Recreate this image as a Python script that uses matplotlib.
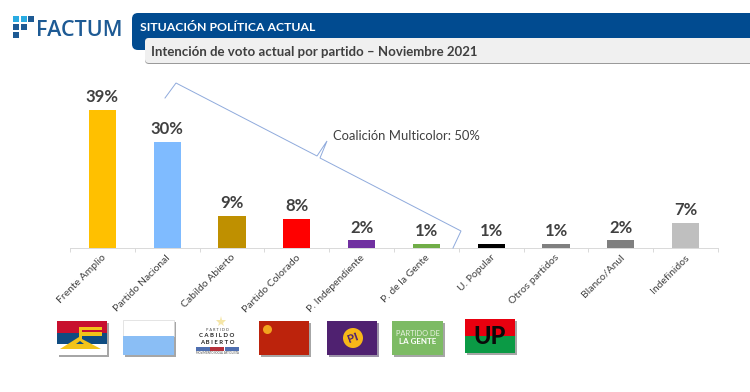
import matplotlib
matplotlib.use("Agg")
import matplotlib.pyplot as plt
from matplotlib.patches import Rectangle, FancyBboxPatch, Circle, Polygon

W, H = 750, 392
parties = ["Frente Amplio", "Partido Nacional", "Cabildo Abierto", "Partido Colorado",
           "P. Independiente", "P. de la Gente", "U. Popular", "Otros partidos",
           "Blanco/Anul", "Indefinidos"]
values = [39, 30, 9, 8, 2, 1, 1, 1, 2, 7]
colors = ["#FFC000", "#7FBBFF", "#BF9000", "#FF0000", "#7030A0", "#70AD47",
          "#000000", "#7F7F7F", "#7F7F7F", "#BFBFBF"]
header_title = "SITUACIÓN POLÍTICA ACTUAL"
header_sub = "Intención de voto actual por partido – Noviembre 2021"
coalition = "Coalición Multicolor: 50%"

plt.rcParams["font.family"] = ["Lato", "DejaVu Sans"]
fig = plt.figure(figsize=(W / 100, H / 100), dpi=100, facecolor="white")

# Overlay in pixel coordinates for the slide furniture
ov = fig.add_axes([0, 0, 1, 1], zorder=3)
ov.set_xlim(0, W); ov.set_ylim(H, 0); ov.axis("off"); ov.patch.set_alpha(0)

# Chart
ax = fig.add_axes([70 / W, (H - 247.5) / H, (718 - 70) / W, 176.5 / H], zorder=2)
ax.patch.set_alpha(0)
x = range(len(parties))
ax.bar(x, values, width=0.42, color=colors)
ax.set_xlim(-0.5, len(parties) - 0.5)
ax.set_ylim(0, 50)
for i, v in zip(x, values):
    ax.annotate(f"{v}%", (i, v), xytext=(0, 3.5), textcoords="offset points", ha="center",
                va="bottom", fontsize=12, fontweight="bold", color="#404040")
ax.set_yticks([])
ax.set_xticks([i - 0.5 for i in range(len(parties) + 1)], labels=[""] * (len(parties) + 1))
ax.tick_params(axis="x", length=3, width=0.7, color="#D9D9D9")
for s in ["top", "left", "right"]:
    ax.spines[s].set_visible(False)
ax.spines["bottom"].set_color("#D9D9D9")
ax.spines["bottom"].set_linewidth(0.7)
for i, name in zip(x, parties):
    ax.annotate(name, (i, 0), xytext=(-0.8, -4), textcoords="offset points", rotation=45,
                rotation_mode="anchor", ha="right", va="top", fontsize=7.5, color="#404040")

# Header
ov.add_patch(FancyBboxPatch((132, 13), 640, 37, boxstyle="round,pad=0,rounding_size=6",
                            fc="#014B90", ec="none"))
ov.add_patch(FancyBboxPatch((145, 38), 640, 26, boxstyle="round,pad=0,rounding_size=4",
                            fc="#9A9A9A", ec="none"))
ov.add_patch(FancyBboxPatch((145, 38), 640, 25, boxstyle="round,pad=0,rounding_size=4",
                            fc="#F0F0F0", ec="none"))
ov.text(140, 27, header_title, fontsize=8.8, fontweight="bold", color="white", va="center")
ov.text(151, 51.5, header_sub, fontsize=9.5, fontweight="bold", color="#404040", va="center")

# Logo
for (lx, ly, c) in [(13, 16, "#29ABE2"), (20.5, 16, "#29ABE2"), (28, 16, "#1D5A94"),
                    (13, 24, "#1D5A94"), (20.5, 24, "#1D5A94"), (13, 32, "#1D5A94")]:
    ov.add_patch(Rectangle((lx, ly), 6.3, 5.8, fc=c, ec="none"))
ov.text(36.5, 30.5, "FACTUM", fontsize=15.5, color="#1D5A94", va="center", fontweight=600,
        family=["Open Sans", "DejaVu Sans"])

# Brace
bx = [165, 176, 317, 327, 320, 461, 453]
by = [98, 83, 156, 141, 158, 231, 248]
ov.plot(bx, by, color="#8FAADC", lw=0.7, solid_joinstyle="miter")
ov.text(333, 136, coalition, fontsize=9.4, color="#404040", va="center")

# Flags
def shadow(x0, y0, w, h, c="#A6A6A6"):
    ov.add_patch(Rectangle((x0 + 1.5, y0 + 1.5), w, h, fc=c, ec="none"))

shadow(57, 321, 50, 34)
ov.add_patch(Rectangle((57, 321), 50, 11.5, fc="#C8102E", ec="none"))
ov.add_patch(Rectangle((57, 332.5), 50, 11.5, fc="#0F4C81", ec="none"))
ov.add_patch(Rectangle((57, 344), 50, 11, fc="white", ec="none"))
ov.add_patch(Polygon([(60, 349), (79, 337), (79, 327), (102, 327), (102, 330), (82, 330),
                      (82, 332), (102, 332), (102, 336), (82, 336), (82, 339), (101, 349)],
                     fc="#F2C318", ec="none"))
ov.add_patch(Polygon([(76, 344), (80, 341), (84, 344)], fc="#0F4C81", ec="none"))

shadow(123, 320, 51, 35)
ov.add_patch(Rectangle((123, 320), 51, 16, fc="white", ec="#D9D9D9", lw=0.5))
ov.add_patch(Rectangle((123, 336), 51, 19, fc="#8ABEF5", ec="none"))

ov.plot([221], [322], marker="*", ms=8, color="#F5E6A8", mew=0)
ov.text(217, 330, "P A R T I D O", fontsize=2.8, ha="center", va="center", color="#404040")
ov.text(217, 335.5, "C A B I L D O", fontsize=4.3, fontweight="bold", ha="center", va="center", color="#222222")
ov.text(217, 342.5, "A B I E R T O", fontsize=4.3, fontweight="bold", ha="center", va="center", color="#222222")
ov.add_patch(Rectangle((196, 347), 13.5, 4, fc="#4F6FB0", ec="none"))
ov.add_patch(Rectangle((210, 347), 13.5, 4, fc="#B5303A", ec="none"))
ov.add_patch(Rectangle((224.5, 347), 14, 4, fc="#4F6FB0", ec="none"))
ov.text(217, 353.5, "MOVIMIENTO SOCIAL ARTIGUISTA", fontsize=1.9, ha="center", va="center", color="#404040")

shadow(259, 321, 50, 34)
ov.add_patch(Rectangle((259, 321), 50, 34, fc="#BC230C", ec="none"))
ov.add_patch(Circle((267.5, 329.5), 4.5, fc="#F2A51E", ec="none"))

shadow(327, 321, 50, 34, "#9C93A8")
ov.add_patch(Rectangle((327, 321), 50, 34, fc="#4F2170", ec="none"))
ov.add_patch(Circle((353, 338), 10, fc="#F7B718", ec="none"))
ov.text(353, 338, "PI", fontsize=8.5, fontweight="bold", color="#4F2170", ha="center", va="center", rotation=20)

shadow(392, 321, 51, 34)
ov.add_patch(Rectangle((392, 321), 51, 34, fc="#7DBB64", ec="none"))
ov.text(417.5, 333.5, "PARTIDO DE", fontsize=5.4, color="#E8F3E0", ha="center", va="center")
ov.text(417.5, 341.5, "LA GENTE", fontsize=5.8, fontweight="bold", color="white", ha="center", va="center")

shadow(465, 319, 50, 34)
ov.add_patch(Rectangle((465, 319), 50, 17, fc="#E8000F", ec="none"))
ov.add_patch(Rectangle((465, 336), 50, 17, fc="#0B9A45", ec="none"))
ov.text(490, 336.5, "UP", fontsize=17, fontweight="black", color="#0A0A0A", ha="center", va="center")

fig.savefig("out.png", dpi=100)
